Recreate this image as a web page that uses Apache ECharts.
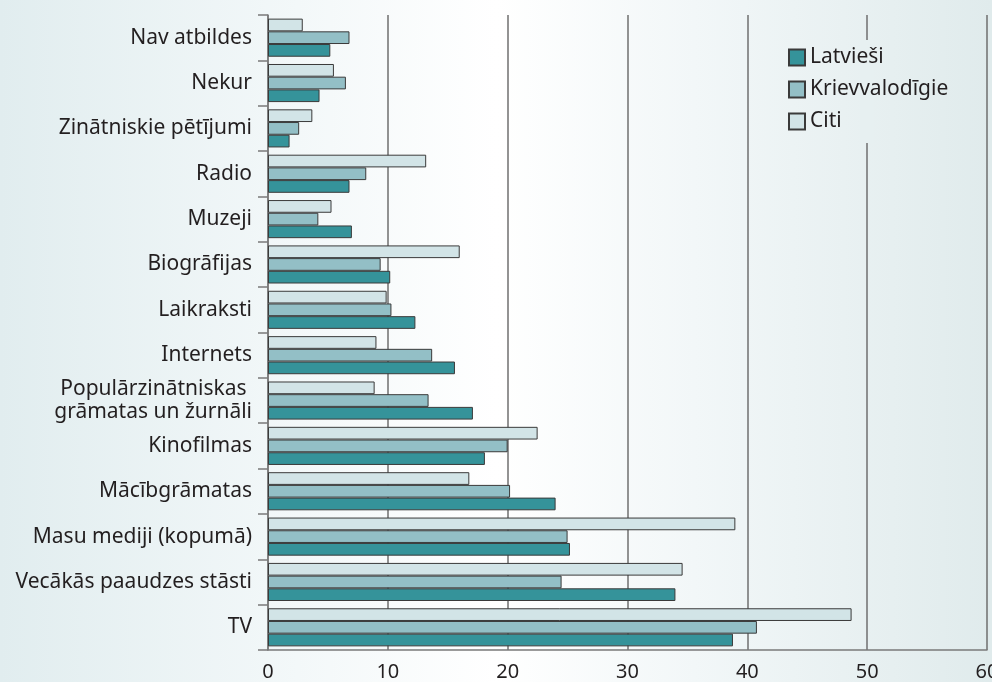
<!DOCTYPE html>
<html>
<head>
<meta charset="utf-8">
<script src="https://cdn.jsdelivr.net/npm/echarts@6/dist/echarts.min.js"></script>
<style>
    html, body { margin: 0; padding: 0; }
    #chart {
        width: 992px;
        height: 682px;
        background: linear-gradient(to right, #e1edef 0%, #f3f8f9 30%, #ffffff 50%, #f2f7f8 70%, #e0ebec 100%);
    }
</style>
</head>
<body>
<div id="chart"></div>
<script>
    // kategorijas no augšas uz leju
    var categories = ['Nav atbildes', 'Nekur', 'Zinātniskie pētījumi', 'Radio', 'Muzeji', 'Biogrāfijas',
        'Laikraksti', 'Internets', 'Populārzinātniskas \ngrāmatas un žurnāli', 'Kinofilmas',
        'Mācībgrāmatas', 'Masu mediji (kopumā)', 'Vecākās paaudzes stāsti', 'TV'];
    var latviesi = [5.2, 4.3, 1.8, 6.8, 7.0, 10.2, 12.3, 15.6, 17.1, 18.1, 24.0, 25.2, 34.0, 38.8];
    var krievvalodigie = [6.8, 6.5, 2.6, 8.2, 4.2, 9.4, 10.3, 13.7, 13.4, 20.0, 20.2, 25.0, 24.5, 40.8];
    var citi = [2.9, 5.5, 3.7, 13.2, 5.3, 16.0, 9.9, 9.05, 8.9, 22.5, 16.8, 39.0, 34.6, 48.7];
    var xTicks = [0, 10, 20, 30, 40, 50, 60];

    var colorList = ['#35939a', '#93bfc6', '#d2e4e7'];
    var fontName = 'Noto Sans';

    var myChart = echarts.init(document.getElementById('chart'));

    function mkSeries(name, data, color) {
        return {
            name: name,
            type: 'bar',
            data: data,
            barGap: '0%',
            barCategoryGap: '16%',
            itemStyle: {
                color: color,
                borderColor: '#3a3a3a',
                borderWidth: 1
            },
            animation: false
        };
    }

    var option = {
        textStyle: { fontFamily: fontName },
        grid: {
            left: 268,
            right: 5,
            top: 15,
            bottom: 32,
            containLabel: false,
            outerBoundsMode: 'none'
        },
        // fons aiz leģendas, lai pārtrauktu režģa līniju pie 50
        graphic: [{
            type: 'rect',
            left: 860,
            top: 40,
            shape: { width: 14, height: 103 },
            style: { fill: '#e7f0f1' },
            z: 5
        }],
        legend: {
            data: ['Latvieši', 'Krievvalodīgie', 'Citi'],
            orient: 'vertical',
            left: 788,
            top: 47,
            padding: 0,
            itemWidth: 16,
            itemHeight: 16,
            itemGap: 11,
            icon: 'rect',
            z: 10,
            textStyle: {
                color: '#231f20',
                fontSize: 21,
                fontFamily: fontName
            }
        },
        xAxis: {
            type: 'value',
            min: xTicks[0],
            max: xTicks[xTicks.length - 1],
            interval: 10,
            axisLine: { show: true, lineStyle: { color: '#7a7a7a', width: 1.5 } },
            axisTick: { show: false },
            axisLabel: {
                color: '#231f20',
                fontSize: 20,
                margin: 12,
                fontFamily: fontName
            },
            splitLine: { show: true, lineStyle: { color: '#6f6f6f', width: 1.5 } }
        },
        yAxis: {
            type: 'category',
            inverse: true,
            data: categories,
            axisLine: { show: true, lineStyle: { color: '#7a7a7a', width: 1.5 } },
            axisTick: { show: true, length: 10, lineStyle: { color: '#7a7a7a', width: 1.5 } },
            axisLabel: {
                color: '#231f20',
                fontSize: 21,
                margin: 16,
                lineHeight: 23,
                fontFamily: fontName
            }
        },
        series: [
            mkSeries('Citi', citi, colorList[2]),
            mkSeries('Krievvalodīgie', krievvalodigie, colorList[1]),
            mkSeries('Latvieši', latviesi, colorList[0])
        ]
    };
    myChart.setOption(option);
</script>
</body>
</html>
